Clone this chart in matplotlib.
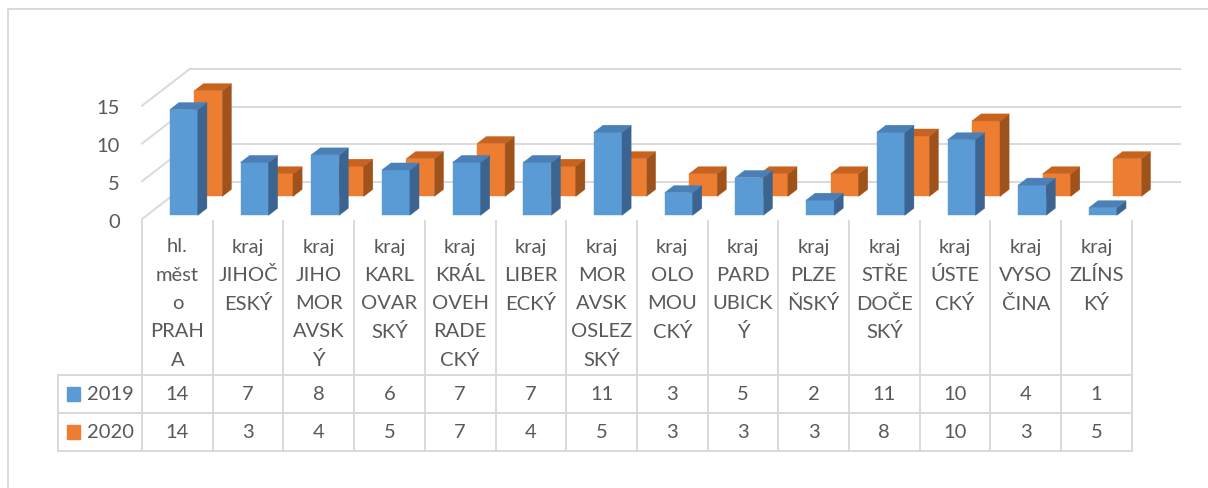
import matplotlib
matplotlib.use("Agg")
import matplotlib.pyplot as plt
from matplotlib.patches import Polygon, Rectangle

plt.rcParams["font.family"] = ["Lato", "DejaVu Sans"]

# data
categories = ["hl.\nměst\no\nPRAH\nA", "kraj\nJIHOČ\nESKÝ", "kraj\nJIHO\nMOR\nAVSK\nÝ",
              "kraj\nKARL\nOVAR\nSKÝ", "kraj\nKRÁL\nOVEH\nRADE\nCKÝ", "kraj\nLIBER\nECKÝ",
              "kraj\nMOR\nAVSK\nOSLEZ\nSKÝ", "kraj\nOLO\nMOU\nCKÝ", "kraj\nPARD\nUBICK\nÝ",
              "kraj\nPLZE\nŇSKÝ", "kraj\nSTŘE\nDOČE\nSKÝ", "kraj\nÚSTE\nCKÝ",
              "kraj\nVYSO\nČINA", "kraj\nZLÍNS\nKÝ"]
series_names = ["2019", "2020"]
v2019 = [14, 7, 8, 6, 7, 7, 11, 3, 5, 2, 11, 10, 4, 1]
v2020 = [14, 3, 4, 5, 7, 4, 5, 3, 3, 3, 8, 10, 3, 5]
yticks = [0, 5, 10, 15]

# geometry (pixels)
W, H = 1208, 489
X0, CW = 142, 70.7      # front-left of first category, category width
Y0, VS = 220, 7.55      # front floor line, pixels per unit
DX, DY = 48, 37         # depth of the plot box
n = len(categories)
ddx, ddy = DX / CW, DY / VS

grid_c = "#d9d9d9"
text_c = "#595959"
front = ["#5b9bd5", "#ed7d31"]
top = ["#4a80b6", "#c8631f"]
side = ["#3b6590", "#a0521b"]
depths = [(0.10, 0.29), (0.61, 0.80)]
bar_off, bar_w = 23 / CW, 28 / CW

fig = plt.figure(figsize=(W / 100, H / 100), dpi=100)
ax = fig.add_axes([0, 0, 1, 1])
ax.set_xlim(-X0 / CW, (W - X0) / CW)
ax.set_ylim(-(H - Y0) / VS, Y0 / VS)
ax.axis("off")

# walls
for t in yticks:
    ax.plot([0, ddx], [t, t + ddy], color=grid_c, lw=1.4, zorder=1)
    ax.plot([ddx, n + ddx], [t + ddy, t + ddy], color=grid_c, lw=1.4, zorder=1)
    ax.text(-22 / CW, t - 2 / VS, str(t), ha="right", va="center",
            fontsize=14.5, color=text_c)

# bars: back series first
for s, vals in reversed(list(enumerate([v2019, v2020]))):
    d0, d1 = depths[s]
    for i, v in enumerate(vals):
        xl = i + bar_off
        xr = xl + bar_w
        ax.bar(xl + d0 * ddx, v, width=bar_w, bottom=d0 * ddy, align="edge",
               color=front[s], edgecolor=front[s], lw=0.3, zorder=2)
        ax.add_patch(Polygon([(xr + d0 * ddx, d0 * ddy), (xr + d1 * ddx, d1 * ddy),
                              (xr + d1 * ddx, d1 * ddy + v), (xr + d0 * ddx, d0 * ddy + v)],
                             closed=True, fc=side[s], ec=side[s], lw=0.3, zorder=2))
        ax.add_patch(Polygon([(xl + d0 * ddx, d0 * ddy + v), (xr + d0 * ddx, d0 * ddy + v),
                              (xr + d1 * ddx, d1 * ddy + v), (xl + d1 * ddx, d1 * ddy + v)],
                             closed=True, fc=top[s], ec=top[s], lw=0.3, zorder=2))

# data table (x in category units, y in pixels)
tb = fig.add_axes([0, 0, 1, 1], facecolor="none")
tb.set_xlim(ax.get_xlim())
tb.set_ylim(H, 0)
tb.axis("off")

row_y = [376, 414, 452]
left_x = (58 - X0) / CW
for k in range(n + 1):
    tb.plot([k, k], [222, row_y[-1]], color=grid_c, lw=1.4)
tb.plot([left_x, left_x], [row_y[0], row_y[-1]], color=grid_c, lw=1.4)
for y in row_y:
    tb.plot([left_x, n], [y, y], color=grid_c, lw=1.4)

for i, lab in enumerate(categories):
    for j, line in enumerate(lab.split("\n")):
        tb.text(i + 0.5, 247 + j * 28.3, line, ha="center", va="center",
                fontsize=14.5, color=text_c)

for s, vals in enumerate([v2019, v2020]):
    yc = (row_y[s] + row_y[s + 1]) / 2
    for i, v in enumerate(vals):
        tb.text(i + 0.5, yc, str(v), ha="center", va="center", fontsize=14.5, color=text_c)
    tb.add_patch(Rectangle(((67 - X0) / CW, yc - 7), 13 / CW, 14, color=front[s]))
    tb.text((87 - X0) / CW, yc, series_names[s], ha="left", va="center",
            fontsize=14.5, color=text_c)

# chart border
fig.add_artist(plt.Line2D([8 / W, 1], [1 - 10 / H, 1 - 10 / H], color=grid_c, lw=1.4))
fig.add_artist(plt.Line2D([8 / W, 8 / W], [0, 1 - 10 / H], color=grid_c, lw=1.4))

fig.savefig("out.png", dpi=100)
